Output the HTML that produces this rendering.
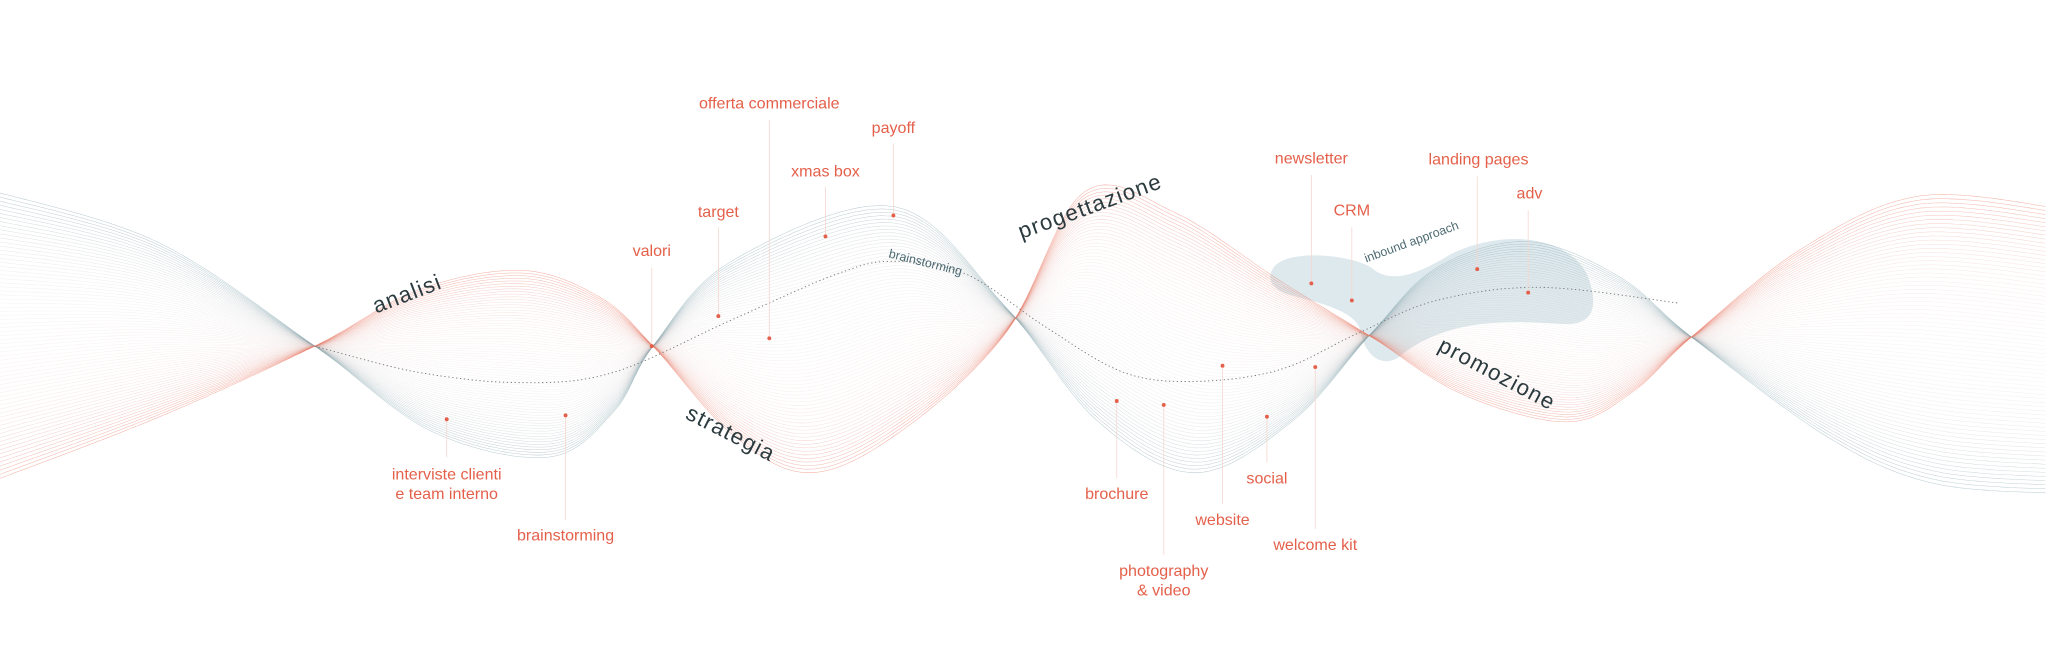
<!DOCTYPE html>
<html><head><meta charset="utf-8"><style>
html,body{margin:0;padding:0;background:#fff;}
svg{display:block;}
.l{font-family:"Liberation Sans",sans-serif;font-size:12.3px;fill:#e4604a;text-anchor:middle;}
.s{font-family:"Liberation Sans",sans-serif;font-size:17px;fill:#2b3a3e;letter-spacing:1px;}
.b{font-family:"Liberation Sans",sans-serif;font-size:9.5px;fill:#4d6a72;}
.ld{stroke:#f6d6cf;stroke-width:0.6;}
.d{fill:#e4604a;}
</style></head><body>
<svg id="sv" width="2048" height="663" viewBox="0 0 1568 507.6" xmlns="http://www.w3.org/2000/svg">
<path d="M975,205 C985,190 1035,195 1050,205 C1065,218 1085,210 1110,195 C1150,175 1200,180 1215,210 C1225,235 1220,250 1195,248 C1150,245 1110,245 1075,270 C1060,285 1045,272 1042,255 C1040,238 1010,232 985,225 C972,220 970,212 975,205 Z" fill="#d6e4e8" opacity="0.8"/>
<g id="lines"></g>
<path id="mid" fill="none" stroke="#777" stroke-width="0.7" stroke-dasharray="1 2"/>
<g>
<line class="ld" x1="589" y1="92" x2="589" y2="259"/><line class="ld" x1="684" y1="110" x2="684" y2="165"/>
<line class="ld" x1="632" y1="143" x2="632" y2="181"/><line class="ld" x1="550" y1="174" x2="550" y2="242"/>
<line class="ld" x1="499" y1="205" x2="499" y2="265"/><line class="ld" x1="342" y1="321" x2="342" y2="350"/>
<line class="ld" x1="433" y1="318" x2="433" y2="398"/><line class="ld" x1="1004" y1="134" x2="1004" y2="217"/>
<line class="ld" x1="1035" y1="174" x2="1035" y2="230"/><line class="ld" x1="1131" y1="135" x2="1131" y2="206"/>
<line class="ld" x1="1170" y1="161" x2="1170" y2="224"/><line class="ld" x1="855" y1="307" x2="855" y2="366"/>
<line class="ld" x1="891" y1="310" x2="891" y2="425"/><line class="ld" x1="936" y1="280" x2="936" y2="386"/>
<line class="ld" x1="970" y1="319" x2="970" y2="354"/><line class="ld" x1="1007" y1="281" x2="1007" y2="405"/>
</g>
<g>
<circle class="d" cx="589" cy="259" r="1.5"/><circle class="d" cx="684" cy="165" r="1.5"/><circle class="d" cx="632" cy="181" r="1.5"/>
<circle class="d" cx="550" cy="242" r="1.5"/><circle class="d" cx="499" cy="265" r="1.5"/><circle class="d" cx="342" cy="321" r="1.5"/>
<circle class="d" cx="433" cy="318" r="1.5"/><circle class="d" cx="1004" cy="217" r="1.5"/><circle class="d" cx="1035" cy="230" r="1.5"/>
<circle class="d" cx="1131" cy="206" r="1.5"/><circle class="d" cx="1170" cy="224" r="1.5"/><circle class="d" cx="855" cy="307" r="1.5"/>
<circle class="d" cx="891" cy="310" r="1.5"/><circle class="d" cx="936" cy="280" r="1.5"/><circle class="d" cx="970" cy="319" r="1.5"/>
<circle class="d" cx="1007" cy="281" r="1.5"/>
</g>
<g>
<text class="l" x="589" y="83">offerta commerciale</text>
<text class="l" x="684" y="102">payoff</text>
<text class="l" x="632" y="135">xmas box</text>
<text class="l" x="550" y="166">target</text>
<text class="l" x="499" y="196">valori</text>
<text class="l" x="342" y="367">interviste clienti</text>
<text class="l" x="342" y="382">e team interno</text>
<text class="l" x="433" y="414">brainstorming</text>
<text class="l" x="1004" y="125">newsletter</text>
<text class="l" x="1035" y="165">CRM</text>
<text class="l" x="1132" y="126">landing pages</text>
<text class="l" x="1171" y="152">adv</text>
<text class="l" x="855" y="382">brochure</text>
<text class="l" x="891" y="441">photography</text>
<text class="l" x="891" y="456">&amp; video</text>
<text class="l" x="936" y="402">website</text>
<text class="l" x="970" y="370">social</text>
<text class="l" x="1007" y="421">welcome kit</text>
</g>
<text class="s" transform="translate(288,240) rotate(-21)">analisi</text>
<text class="s" transform="translate(524,320) rotate(27)">strategia</text>
<text class="s" transform="translate(782,183) rotate(-20)">progettazione</text>
<text class="s" transform="translate(1100,268) rotate(28)">promozione</text>
<text class="b" transform="translate(680,197) rotate(14)">brainstorming</text>
<text class="b" transform="translate(1046,201) rotate(-20)">inbound approach</text>
</svg>
<script>
function cr(pts){var out=[];for(var i=0;i<pts.length-1;i++){var p0=pts[Math.max(0,i-1)],p1=pts[i],p2=pts[i+1],p3=pts[Math.min(pts.length-1,i+2)];for(var s=0;s<12;s++){var t=s/12,t2=t*t,t3=t2*t;var f=function(a,b,c,d){return 0.5*((2*b)+(-a+c)*t+(2*a-5*b+4*c-d)*t2+(-a+3*b-3*c+d)*t3);};out.push([f(p0[0],p1[0],p2[0],p3[0]),f(p0[1],p1[1],p2[1],p3[1])]);}}out.push(pts[pts.length-1]);return out;}
var T=[[-10,145],[120,185],[241,265],[330,330],[420,350],[470,315],[500,265],[560,200],[684,158],[770,235],[840,322],[915,362],[990,322],[1050,255],[1100,205],[1170,185],[1240,212],[1295,258],[1400,335],[1480,370],[1580,378]];
var R=[[-10,370],[120,320],[241,265],[320,222],[400,207],[460,228],[500,265],[560,332],[620,362],[690,330],[770,255],[830,147],[900,163],[980,215],[1050,258],[1120,302],[1200,323],[1250,300],[1295,258],[1380,190],[1470,150],[1580,160]];
var ct=cr(T),crr=cr(R);
function samp(c,x){for(var i=0;i<c.length-1;i++){if(x>=c[i][0]&&x<=c[i+1][0]){var u=(x-c[i][0])/(c[i+1][0]-c[i][0]||1);return c[i][1]+u*(c[i+1][1]-c[i][1]);}}return c[c.length-1][1];}
var xs=[];for(var x=0;x<=1568;x+=3)xs.push(x);
var yt=xs.map(function(x){return samp(ct,x)}),yr=xs.map(function(x){return samp(crr,x)});
function bump(x){return 45*Math.exp(-Math.pow((x-770)/60,2))+20*Math.exp(-Math.pow((x-1050)/50,2))+8*Math.exp(-Math.pow((x-500)/30,2));}
var g=document.getElementById('lines'),N=70,html='';
for(var k=0;k<=N;k++){var t=k/N;var d='';for(var j=0;j<xs.length;j++){var y=yt[j]*(1-t)+yr[j]*t+(2*t-1)*bump(xs[j])*0;var s=Math.sin(Math.PI*t);y+= (t<0.5?-1:1)*0;d+=(j?'L':'M')+xs[j]+','+y.toFixed(1);}
var r=Math.round(140+(236-140)*t),gg=Math.round(172+(125-172)*t),b=Math.round(181+(105-181)*t);
var op=0.12+0.5*Math.pow(Math.abs(t-0.5)*2,3);
html+='<path d="'+d+'" fill="none" stroke="rgb('+r+','+gg+','+b+')" stroke-width="0.4" opacity="'+op.toFixed(2)+'"/>';}
g.innerHTML=html;
var M=cr([[241,265],[320,285],[400,293],[470,285],[560,245],[640,210],[684,200],[740,210],[800,250],[860,285],[915,292],[980,283],[1040,255],[1100,230],[1180,220],[1285,232]]);
document.getElementById('mid').setAttribute('d',M.map(function(p,i){return (i?'L':'M')+p[0].toFixed(1)+','+p[1].toFixed(1)}).join(''));
</script>
</body></html>
